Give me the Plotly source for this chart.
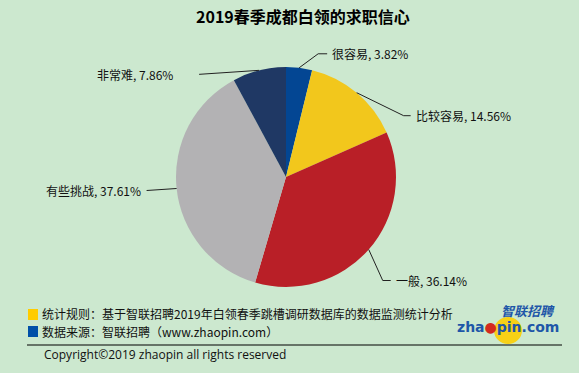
import math
import plotly.graph_objects as go

W, H = 579, 373

# ---- data ----
categories = ["很容易", "比较容易", "一般", "有些挑战", "非常难"]
values = [3.82, 14.56, 36.14, 37.61, 7.86]
colors = ["#034693", "#F2C71C", "#B91F27", "#B3B2B4", "#1F3864"]

title_text = "2019春季成都白领的求职信心"
note_rule = "统计规则：基于智联招聘2019年白领春季跳槽调研数据库的数据监测统计分析"
note_source = "数据来源：智联招聘（www.zhaopin.com）"
copyright_text = "Copyright©2019 zhaopin all rights reserved"

# ---- layout constants (pixels) ----
BG = "#CCE8CF"
FONT = "Noto Sans CJK SC"
CX, CY, R = 286, 177, 110
# elbow offsets (from slice edge) and horizontal tail per label
elbow_off = [(19, -14), (47, 23), (14, 31), (-30, 2), (-60, 4)]
tail = [9, 7, 8, 0, 0]


def X(px):
    return px / W


def Y(py):
    return 1 - py / H


fig = go.Figure()
fig.add_trace(go.Pie(
    labels=categories, values=values, sort=False, direction="clockwise",
    rotation=0, marker=dict(colors=colors, line=dict(width=0)),
    textinfo="none", hoverinfo="label+percent", showlegend=False,
    domain=dict(x=[X(CX - R), X(CX + R)], y=[Y(CY + R), Y(CY - R)]),
))

shapes = []
annotations = []
total = sum(values)
cum = 0.0
for i, (cat, v) in enumerate(zip(categories, values)):
    mid = (cum + v / 2) / total * 2 * math.pi
    cum += v
    px = CX + R * math.sin(mid)
    py = CY - R * math.cos(mid)
    ex, ey = px + elbow_off[i][0], py + elbow_off[i][1]
    right = math.sin(mid) > 0
    tx = ex + (tail[i] if right else -tail[i])
    shapes.append(dict(type="line", xref="paper", yref="paper",
                       x0=X(px), y0=Y(py), x1=X(ex), y1=Y(ey),
                       line=dict(color="#222", width=1)))
    if tail[i]:
        shapes.append(dict(type="line", xref="paper", yref="paper",
                           x0=X(ex), y0=Y(ey), x1=X(tx), y1=Y(ey),
                           line=dict(color="#222", width=1)))
    gap = 3 if right else -24 if i == 4 else -4
    annotations.append(dict(
        xref="paper", yref="paper", x=X(tx + gap), y=Y(ey),
        xanchor="left" if right else "right", yanchor="middle",
        text=f"{cat}, {v:.2f}%", showarrow=False,
        font=dict(family=FONT, size=12, color="#111")))

# title
annotations.append(dict(xref="paper", yref="paper", x=X(303), y=Y(16),
                        xanchor="center", yanchor="middle", showarrow=False,
                        text=f"<b>{title_text}</b>",
                        font=dict(family=FONT, size=16, color="#000")))
# footer notes
annotations.append(dict(xref="paper", yref="paper", x=X(40), y=Y(313),
                        xanchor="left", yanchor="middle", showarrow=False,
                        text=note_rule, font=dict(family=FONT, size=12, color="#111")))
annotations.append(dict(xref="paper", yref="paper", x=X(40), y=Y(331),
                        xanchor="left", yanchor="middle", showarrow=False,
                        text=note_source, font=dict(family=FONT, size=12, color="#111")))
annotations.append(dict(xref="paper", yref="paper", x=X(42), y=Y(354),
                        xanchor="left", yanchor="middle", showarrow=False,
                        text=copyright_text,
                        font=dict(family="Open Sans", size=12, color="#111")))
shapes += [
    dict(type="rect", xref="paper", yref="paper", x0=X(28), x1=X(38), y0=Y(320), y1=Y(309),
         fillcolor="#FFCC00", line=dict(width=0)),
    dict(type="rect", xref="paper", yref="paper", x0=X(28), x1=X(38), y0=Y(337), y1=Y(326),
         fillcolor="#0050A8", line=dict(width=0)),
    dict(type="line", xref="paper", yref="paper", x0=X(27), x1=X(562), y0=Y(345), y1=Y(345),
         line=dict(color="#000", width=1)),
]
# logo
shapes += [
    dict(type="circle", xref="paper", yref="paper", x0=X(494), x1=X(522), y0=Y(344), y1=Y(317),
         fillcolor="#F7D117", line=dict(width=0), layer="below"),
]
annotations.append(dict(xref="paper", yref="paper", x=X(528), y=Y(310),
                        xanchor="center", yanchor="middle", showarrow=False,
                        text="<b><i>智联招聘</i></b>", borderpad=0,
                        font=dict(family=FONT, size=13, color="#1E56A8")))
annotations.append(dict(xref="paper", yref="paper", x=X(508), y=Y(327),
                        xanchor="center", yanchor="middle", showarrow=False,
                        text="<b>zha<span style='color:#D42A1E'>●</span>pin.com</b>",
                        borderpad=0,
                        font=dict(family="DejaVu Sans", size=14, color="#1E56A8")))

fig.update_layout(
    width=W, height=H, margin=dict(l=0, r=0, t=0, b=0),
    paper_bgcolor=BG, plot_bgcolor=BG,
    shapes=shapes, annotations=annotations,
)
fig.write_html("out.html", config={"displayModeBar": False},
               post_script="document.body.style.margin='0';document.body.style.background='%s';" % BG)
